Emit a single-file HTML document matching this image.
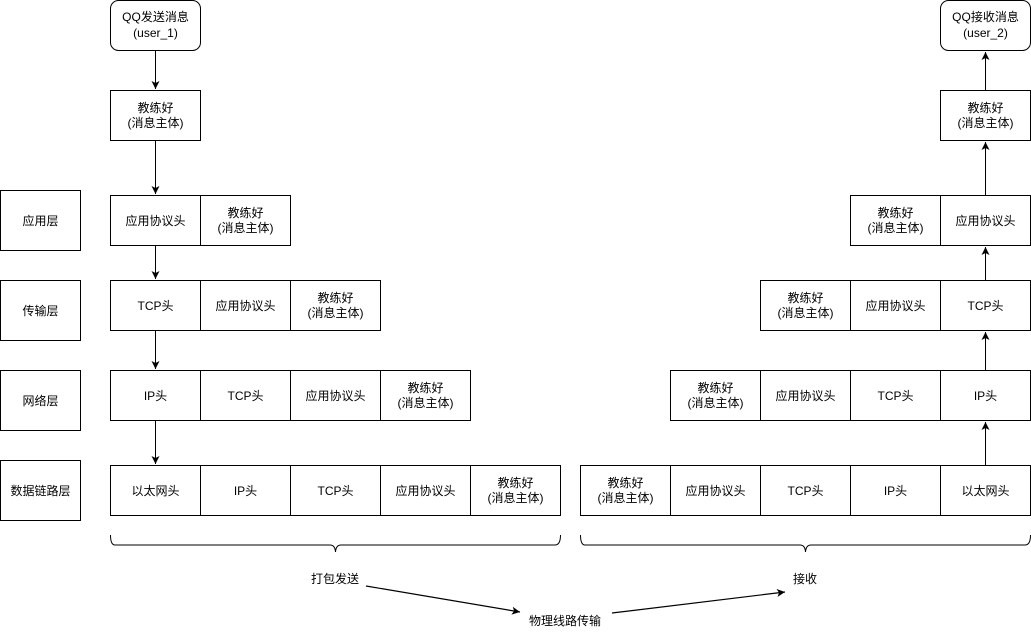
<!DOCTYPE html>
<html><head><meta charset="utf-8"><style>
html,body{margin:0;padding:0;background:#fff;}
svg text{font-family:"Liberation Sans","Noto Sans CJK SC",sans-serif;font-size:12px;fill:#000;}
</style></head><body>
<svg width="1031" height="631" viewBox="0 0 1031 631" xmlns="http://www.w3.org/2000/svg">
<defs><marker id="a" markerWidth="9" markerHeight="9" refX="8" refY="4.5" orient="auto" markerUnits="userSpaceOnUse"><path d="M0,0.5 L8,4.5 L0,8.5 L2,4.5 Z" fill="#000"/></marker></defs>
<g fill="#fff" stroke="#000" stroke-width="1">
<rect x="110.5" y="0.5" width="90" height="50" rx="8"/>
<rect x="110.5" y="90.5" width="90" height="50"/>
<rect x="0.5" y="190.5" width="80" height="60"/>
<rect x="0.5" y="280.5" width="80" height="60"/>
<rect x="0.5" y="370.5" width="80" height="60"/>
<rect x="0.5" y="460.5" width="80" height="60"/>
<rect x="110.5" y="195.5" width="90" height="50"/><rect x="200.5" y="195.5" width="90" height="50"/>
<rect x="110.5" y="280.5" width="90" height="50"/><rect x="200.5" y="280.5" width="90" height="50"/><rect x="290.5" y="280.5" width="90" height="50"/>
<rect x="110.5" y="370.5" width="90" height="50"/><rect x="200.5" y="370.5" width="90" height="50"/><rect x="290.5" y="370.5" width="90" height="50"/><rect x="380.5" y="370.5" width="90" height="50"/>
<rect x="110.5" y="465.5" width="90" height="50"/><rect x="200.5" y="465.5" width="90" height="50"/><rect x="290.5" y="465.5" width="90" height="50"/><rect x="380.5" y="465.5" width="90" height="50"/><rect x="470.5" y="465.5" width="90" height="50"/>
<rect x="940.5" y="0.5" width="90" height="50" rx="8"/>
<rect x="940.5" y="90.5" width="90" height="50"/>
<rect x="850.5" y="195.5" width="90" height="50"/><rect x="940.5" y="195.5" width="90" height="50"/>
<rect x="760.5" y="280.5" width="90" height="50"/><rect x="850.5" y="280.5" width="90" height="50"/><rect x="940.5" y="280.5" width="90" height="50"/>
<rect x="670.5" y="370.5" width="90" height="50"/><rect x="760.5" y="370.5" width="90" height="50"/><rect x="850.5" y="370.5" width="90" height="50"/><rect x="940.5" y="370.5" width="90" height="50"/>
<rect x="580.5" y="465.5" width="90" height="50"/><rect x="670.5" y="465.5" width="90" height="50"/><rect x="760.5" y="465.5" width="90" height="50"/><rect x="850.5" y="465.5" width="90" height="50"/><rect x="940.5" y="465.5" width="90" height="50"/>
</g>
<g stroke="#000" fill="none" stroke-width="1">
<line x1="155.5" y1="51" x2="155.5" y2="89" marker-end="url(#a)"/>
<line x1="155.5" y1="141" x2="155.5" y2="194" marker-end="url(#a)"/>
<line x1="155.5" y1="246" x2="155.5" y2="279" marker-end="url(#a)"/>
<line x1="155.5" y1="331" x2="155.5" y2="369" marker-end="url(#a)"/>
<line x1="155.5" y1="421" x2="155.5" y2="464" marker-end="url(#a)"/>
<line x1="985.5" y1="90" x2="985.5" y2="52" marker-end="url(#a)"/>
<line x1="985.5" y1="195" x2="985.5" y2="142" marker-end="url(#a)"/>
<line x1="985.5" y1="280" x2="985.5" y2="247" marker-end="url(#a)"/>
<line x1="985.5" y1="370" x2="985.5" y2="332" marker-end="url(#a)"/>
<line x1="985.5" y1="465" x2="985.5" y2="422" marker-end="url(#a)"/>
<path d="M110.5,535 Q110.5,545 115,545 L330,545 Q335,545 335.5,552 Q336,545 341,545 L555,545 Q560.5,545 560.5,535"/>
<path d="M580.5,535 Q580.5,545 585,545 L800,545 Q805,545 805.5,552 Q806,545 811,545 L1025,545 Q1030.5,545 1030.5,535"/>
<line x1="366" y1="586" x2="520" y2="612" marker-end="url(#a)" stroke-width="1.2"/>
<line x1="612" y1="613" x2="785" y2="592" marker-end="url(#a)" stroke-width="1.2"/>
</g>
<g text-anchor="middle">
<text x="155.5" y="21">QQ发送消息</text><text x="155.5" y="37">(user_1)</text>
<text x="155.5" y="112">教练好</text><text x="155.5" y="127">(消息主体)</text>
<text x="40.5" y="225">应用层</text><text x="40.5" y="315">传输层</text><text x="40.5" y="405">网络层</text><text x="40.5" y="495">数据链路层</text>
<text x="155.5" y="225">应用协议头</text><text x="245.5" y="217">教练好</text><text x="245.5" y="232">(消息主体)</text>
<text x="155.5" y="310">TCP头</text><text x="245.5" y="310">应用协议头</text><text x="335.5" y="302">教练好</text><text x="335.5" y="317">(消息主体)</text>
<text x="155.5" y="400">IP头</text><text x="245.5" y="400">TCP头</text><text x="335.5" y="400">应用协议头</text><text x="425.5" y="392">教练好</text><text x="425.5" y="407">(消息主体)</text>
<text x="155.5" y="495">以太网头</text><text x="245.5" y="495">IP头</text><text x="335.5" y="495">TCP头</text><text x="425.5" y="495">应用协议头</text><text x="515.5" y="487">教练好</text><text x="515.5" y="502">(消息主体)</text>
<text x="985.5" y="21">QQ接收消息</text><text x="985.5" y="37">(user_2)</text>
<text x="985.5" y="112">教练好</text><text x="985.5" y="127">(消息主体)</text>
<text x="895.5" y="217">教练好</text><text x="895.5" y="232">(消息主体)</text><text x="985.5" y="225">应用协议头</text>
<text x="805.5" y="302">教练好</text><text x="805.5" y="317">(消息主体)</text><text x="895.5" y="310">应用协议头</text><text x="985.5" y="310">TCP头</text>
<text x="715.5" y="392">教练好</text><text x="715.5" y="407">(消息主体)</text><text x="805.5" y="400">应用协议头</text><text x="895.5" y="400">TCP头</text><text x="985.5" y="400">IP头</text>
<text x="625.5" y="487">教练好</text><text x="625.5" y="502">(消息主体)</text><text x="715.5" y="495">应用协议头</text><text x="805.5" y="495">TCP头</text><text x="895.5" y="495">IP头</text><text x="985.5" y="495">以太网头</text>
<text x="335" y="583">打包发送</text><text x="805" y="583">接收</text><text x="565" y="625">物理线路传输</text>
</g>
</svg>
</body></html>
